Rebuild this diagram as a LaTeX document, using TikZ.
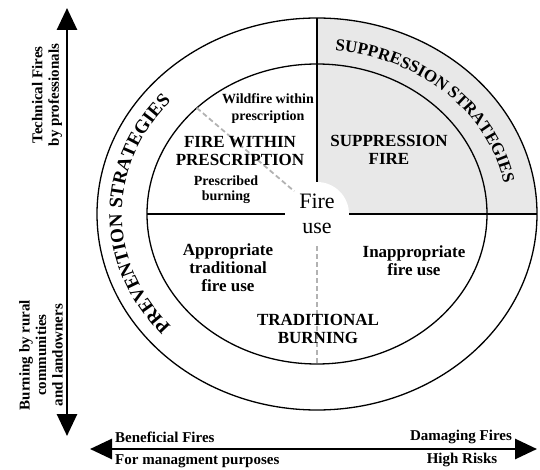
\documentclass[tikz,border=0pt]{standalone}
\usepackage{fontspec}
\setmainfont{Liberation Serif}
\usetikzlibrary{positioning,arrows.meta,shapes.geometric,decorations.text,calc}

\definecolor{quadgray}{gray}{0.91}
\newcommand{\prevfont}{\bfseries\fontsize{19}{19}\selectfont}
\newcommand{\suppfont}{\bfseries\fontsize{17}{17}\selectfont}

\tikzset{
	ring/.style={draw, ellipse, line width=1.3pt, inner sep=0pt, outer sep=0pt},
	divider/.style={line width=2.2pt},
	guide/.style={draw=black!30, line width=1.8pt, dash pattern=on 5pt off 3pt},
	axis/.style={line width=2.8pt,
			{Triangle[width=20pt,length=22pt]}-{Triangle[width=20pt,length=22pt]}},
	zone/.style={align=center, inner sep=0pt,
			font=\bfseries\fontsize{17}{18}\selectfont},
	note/.style={align=center, inner sep=0pt,
			font=\bfseries\fontsize{14}{17}\selectfont},
	axistext/.style={align=center, inner sep=0pt,
			font=\bfseries\fontsize{15}{16.5}\selectfont}
}

\begin{document}
\begin{tikzpicture}[x=1pt, y=1pt]
		\useasboundingbox (0,0) rectangle (540,469);
		\coordinate (c) at (317,255);

		% Shaded quadrant
		\fill[quadgray] (c) -- ++(220,0)
		arc[start angle=0, end angle=90, x radius=220, y radius=196] -- cycle;

		% Rings
		\node[ring,
			minimum width=440pt,
			minimum height=392pt
		] (outer) at (c) {};

		\node[ring,
			minimum width=340pt,
			minimum height=300pt
		] (inner) at (c) {};

		% Centre
		\node[circle,
			fill=white,
			minimum size=64pt,
			inner sep=0pt,
			align=center,
			font=\fontsize{22}{25}\selectfont
		] (fire) at (c) {Fire\\use};

		% Dividers
		\draw[divider] (outer.north) -- (fire.north);
		\draw[divider] (inner.west) -- (fire.west);
		\draw[divider] (fire.east) -- (outer.east);

		% Dashed guides
		\draw[guide] (inner.north west) -- (fire.north west);
		\draw[guide] (fire.south) -- (inner.south);

		% Band titles
		\path[decorate, decoration={text along path, text align=center,
					text={|\prevfont|PREVENTION STRATEGIES}}]
		($(c)+(225:195 and 170)$)
		arc[start angle=225, end angle=135, x radius=195, y radius=170];

		\path[decorate, decoration={text along path, text align=center,
					text={|\suppfont|SUPPRESSION STRATEGIES}}]
		($(c)+(92:190 and 164)$)
		arc[start angle=92, end angle=2, x radius=190, y radius=164];

		% Zones
		\node[note] (wildfire) at (268,360) {Wildfire within\\prescription};
		\node[zone] (within) at (240,317.5) {FIRE WITHIN\\PRESCRIPTION};
		\node[note, font=\bfseries\fontsize{14}{15}\selectfont]
		(prescribed) at (226,279.5) {Prescribed\\burning};
		\node[zone] (suppression) at (389,319) {SUPPRESSION\\FIRE};
		\node[zone] (appropriate) at (228,201) {Appropriate\\traditional\\fire use};
		\node[zone] (inappropriate) at (414,208.5) {Inappropriate\\fire use};
		\node[zone] (traditional) at (318,140) {TRADITIONAL\\BURNING};

		% Axes
		\coordinate (ybot) at (67,33);
		\coordinate (ytop) at (67,461);
		\coordinate (xleft) at (90,20);
		\coordinate (xright) at (537,20);

		\draw[axis] (ybot) -- (ytop);
		\draw[axis] (xleft) -- (xright);

		% Axis labels
		\node[axistext, rotate=90] (technical) at (47,374) {Technical Fires\\by professionals};
		\node[axistext, rotate=90] (rural) at (41,114) {Burning by rural\\communities\\and landowners};
		\node[axistext, anchor=west] (beneficial) at (115,32) {Beneficial Fires};
		\node[axistext, anchor=west] (management) at (115,8) {For managment purposes};
		\node[axistext] (damaging) at (461,32) {Damaging Fires};
		\node[axistext] (risks) at (462,9) {High Risks};
	\end{tikzpicture}
\end{document}
